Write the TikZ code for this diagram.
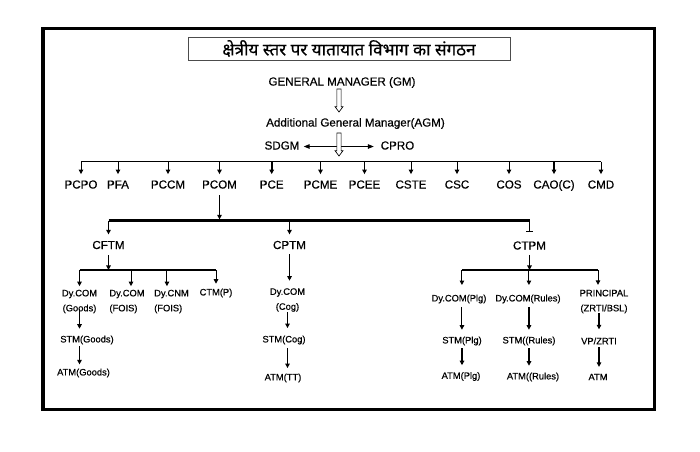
\documentclass[tikz,border=0pt]{standalone}
\usepackage{fontspec}
\setmainfont[FakeBold=0.5]{Liberation Sans}
\newfontfamily\deva[Script=Devanagari,FakeBold=0.6]{Noto Sans}
\usetikzlibrary{arrows.meta,calc}
\newcommand\hollowdown[2]{%
  \draw[hollow] let \p1=(#1), \p2=(#2) in
    (\x1-1.6pt,\y1) -- (\x1-1.6pt,\y2+4pt) -- (\x1-3pt,\y2+4pt) -- (\x1,\y2)
    -- (\x1+3pt,\y2+4pt) -- (\x1+1.6pt,\y2+4pt) -- (\x1+1.6pt,\y1) -- cycle;}
\begin{document}
\begin{tikzpicture}[x=0.75pt,y=-0.75pt,
  lab/.style={inner sep=0pt, font=\fontsize{8.7}{10}\selectfont, text height=6.3pt, text depth=1.8pt},
  sm/.style={inner sep=0pt, font=\fontsize{7}{11.25}\selectfont, align=center},
  arr/.style={-{Triangle[length=3.4pt,width=3.4pt]}, line width=0.75pt},
  tarr/.style={arr, line width=1.4pt},
  bus/.style={line width=1.1pt},
  tbus/.style={line width=1.9pt},
  hollow/.style={draw=black, line width=0.5pt, fill=white}]

\useasboundingbox (0,0) rectangle (700,451);
\draw[line width=2.6pt] (43,28.5) rectangle (654.5,409.5);

\node[draw=black!70, line width=0.6pt, minimum width=241.5pt, minimum height=17.25pt,
      inner sep=0pt, font=\deva\fontsize{12.8}{13}\selectfont] (title) at (349,48.5)
      {क्षेत्रीय स्तर पर यातायात विभाग का संगठन};

% top chain
\node[lab] (gm) at (342,82.5) {GENERAL MANAGER (GM)};
\node[lab] (agm) at (355.5,123.5) {Additional General Manager(AGM)};
\node[lab] (sdgm) at (282,146.5) {SDGM};
\node[lab] (cpro) at (397.5,146.5) {CPRO};
\coordinate (h1a) at (339,89);
\coordinate (h1b) at (339,112);
\coordinate (h2a) at (339,133);
\coordinate (h2b) at (339,156);
\draw[{Triangle[length=4.5pt,width=3.4pt]}-{Triangle[length=4.5pt,width=3.4pt]}, line width=0.8pt,
      shorten <=3pt, shorten >=5pt] (sdgm.east) -- (cpro.west);
\hollowdown{h1a}{h1b}
\hollowdown{h2a}{h2b}

% level 1
\coordinate (b1) at (0,161.5);
\node[lab] (pcpo) at (81,185.5) {PCPO};
\node[lab] (pfa) at (118,185.5) {PFA};
\node[lab] (pccm) at (168,185.5) {PCCM};
\node[lab] (pcom) at (219.5,185.5) {PCOM};
\node[lab] (pce) at (271.7,185.5) {PCE};
\node[lab] (pcme) at (320.5,185.5) {PCME};
\node[lab] (pcee) at (364.5,185.5) {PCEE};
\node[lab] (cste) at (411,185.5) {CSTE};
\node[lab] (csc) at (457,185.5) {CSC};
\node[lab] (cos) at (509,185.5) {COS};
\node[lab] (caoc) at (554,185.5) {CAO(C)};
\node[lab] (cmd) at (601,185.5) {CMD};
\draw[bus] (pcpo.north |- b1) -- (cmd.north |- b1);
\foreach \n in {pcpo,pfa,pccm,pcme,cste,csc,cos,cmd}
  \draw[arr, shorten >=4.3pt] (\n.north |- b1) -- (\n.north);
\foreach \n in {pcom,pce,pcee,caoc}
  \draw[tarr, shorten >=4.3pt] (\n.north |- b1) -- (\n.north);

% level 2
\coordinate (b2) at (0,220.7);
\node[lab] (cftm) at (108.5,246) {CFTM};
\node[lab] (cptm) at (289.5,246) {CPTM};
\node[lab] (ctpm) at (529.5,246.5) {CTPM};
\draw[tarr, shorten <=3pt, shorten >=1pt] (pcom.south) -- (pcom.south |- b2);
\draw[tbus] (cftm.north |- b2) -- (ctpm.north |- b2);
\draw[arr, shorten >=4.5pt] (cftm.north |- b2) -- (cftm.north);
\draw[arr, shorten >=4.5pt] (cptm.north |- b2) -- (cptm.north);
\draw[line width=0.6pt] (ctpm.north |- b2) -- ++(0,10.5) coordinate (one);
\draw[line width=0.6pt] ($(one)+(-3.5,0)$) -- ($(one)+(3.5,0)$);

% CFTM branch
\coordinate (b3) at (0,270);
\node[sm] (dycg) at (79.5,301.5) {Dy.COM\\(Goods)};
\node[sm, align=left] (dycf) at (127,301.5) {Dy.COM\\(FOIS)};
\node[sm, align=left] (dycnm) at (171.5,301.5) {Dy.CNM\\(FOIS)};
\node[sm] (ctmp) at (216,293) {CTM(P)};
\draw[tarr, shorten <=2.5pt] (cftm.south) -- (cftm.south |- b3);
\draw[bus] (dycg.north |- b3) -- (ctmp.north |- b3);
\draw[arr, shorten >=2.5pt] (dycg.north |- b3) -- (dycg.north);
\draw[arr, shorten >=2.5pt] ([xshift=3pt]dycf.north |- b3) -- ([xshift=3pt]dycf.north);
\draw[arr, shorten >=2.5pt] ([xshift=-3.4pt]dycnm.north |- b3) -- ([xshift=-3.4pt]dycnm.north);
\draw[arr, shorten >=3.5pt] (ctmp.north |- b3) -- (ctmp.north);
\node[sm] (stmg) at (87,340) {STM(Goods)};
\node[sm] (atmg) at (83.5,373) {ATM(Goods)};
\draw[arr, shorten <=-3pt, shorten >=5pt] (dycg.south) -- (dycg.south |- stmg.north);
\draw[tarr, shorten <=1.2pt, shorten >=3pt] (stmg.south -| dycg.south) -- (atmg.north -| dycg.south);

% CPTM branch
\node[sm] (dycog) at (287.5,300) {Dy.COM\\(Cog)};
\node[sm] (stmcog) at (284,340) {STM(Cog)};
\node[sm] (atmtt) at (283,378) {ATM(TT)};
\draw[tarr, shorten <=2pt, shorten >=5.5pt] (cptm.south) -- (cptm.south |- dycog.north);
\draw[arr, shorten >=5.5pt] (dycog.south) -- (dycog.south |- stmcog.north);
\draw[tarr, shorten <=2.5pt, shorten >=4pt] (stmcog.south -| dycog.south) -- (atmtt.north -| dycog.south);

% CTPM branch
\node[sm] (dyplg) at (459,299) {Dy.COM(Plg)};
\node[sm] (dyrul) at (528,299) {Dy.COM(Rules)};
\node[sm] (princ) at (604,301.5) {PRINCIPAL\\(ZRTI/BSL)};
\draw[tarr, shorten <=2pt] (ctpm.south) -- (ctpm.south |- b3);
\draw[bus] ([xshift=2.2pt]dyplg.north |- b3) -- ([xshift=-4.5pt]princ.north |- b3);
\draw[arr, shorten >=7pt] ([xshift=2.2pt]dyplg.north |- b3) -- ([xshift=2.2pt]dyplg.north);
\draw[arr, shorten >=7pt] ([xshift=0.7pt]dyrul.north |- b3) -- ([xshift=0.7pt]dyrul.north);
\draw[arr, shorten >=3.5pt] ([xshift=-4.5pt]princ.north |- b3) -- ([xshift=-4.5pt]princ.north);
\node[sm] (stmplg) at (462,341) {STM(Plg)};
\node[sm] (stmrul) at (529,341) {STM((Rules)};
\node[sm] (vpz) at (599,341) {VP/ZRTI};
\node[sm] (atmplg) at (461,376.5) {ATM(Plg)};
\node[sm] (atmrul) at (533,377) {ATM((Rules)};
\node[sm] (atm) at (598,377) {ATM};
\draw[arr, shorten <=2.5pt, shorten >=5pt] ([xshift=2.2pt]dyplg.south) -- ([xshift=2.2pt]dyplg.south |- stmplg.north);
\draw[tarr, shorten <=2.5pt, shorten >=5pt] ([xshift=0.7pt]dyrul.south) -- ([xshift=0.7pt]dyrul.south |- stmrul.north);
\draw[tarr, shorten <=0pt, shorten >=6pt] (vpz.north |- princ.south) -- (vpz.north);
\draw[tarr, shorten <=2pt, shorten >=5pt] (stmplg.south) -- (stmplg.south |- atmplg.north);
\draw[tarr, shorten <=2pt, shorten >=5pt] (stmrul.south) -- (stmrul.south |- atmrul.north);
\draw[tarr, shorten <=2pt, shorten >=5pt] (vpz.south) -- (vpz.south |- atm.north);
\end{tikzpicture}
\end{document}
